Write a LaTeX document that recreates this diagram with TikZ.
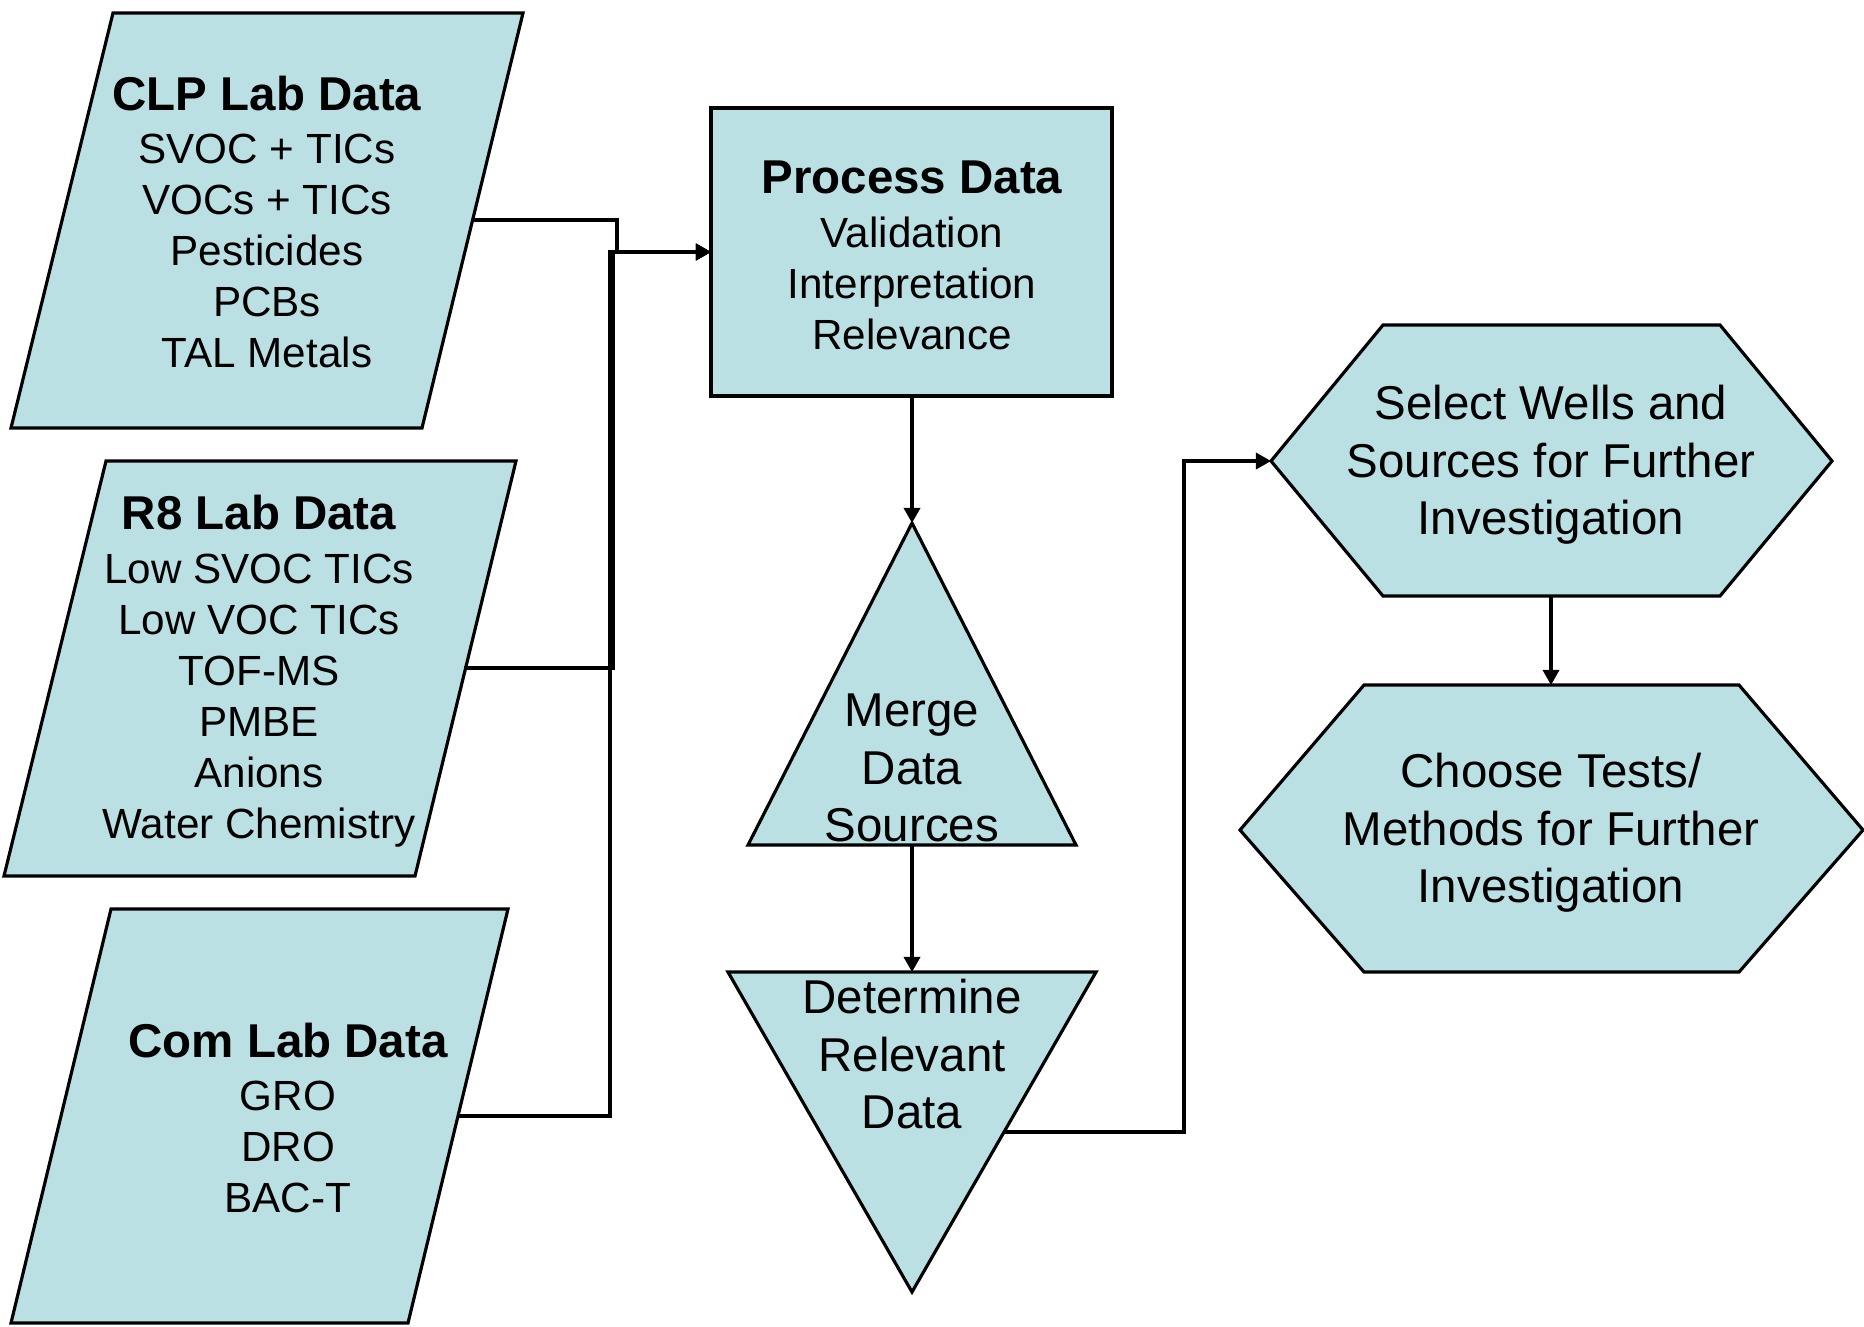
\documentclass[tikz,border=0pt]{standalone}
\usepackage{fontspec}
\setmainfont{Liberation Sans}
\usetikzlibrary{arrows.meta}

\definecolor{boxfill}{RGB}{187,224,227}
\tikzset{
    shapebox/.style={fill=boxfill,draw=black,line width=0.9pt},
    flow/.style={line width=0.9pt,-{Triangle[length=4.3pt,width=4.6pt]}},
    smalltext/.style={align=center,font=\fontsize{12}{14.5}\selectfont},
    bigtext/.style={align=center,font=\fontsize{13.5}{16.3}\selectfont},
}
\newcommand{\heading}[1]{{\bfseries\fontsize{13.5}{14.5}\selectfont #1}}

\begin{document}
\begin{tikzpicture}[x=0.01cm,y=-0.01cm]
    \useasboundingbox (0,0) rectangle (1864,1326);

    % lab data inputs
    \filldraw[shapebox] (113,13) -- (523,13) -- (422,428) -- (11,428) -- cycle;
    \filldraw[shapebox] (106,461) -- (516,461) -- (415,876) -- (4,876) -- cycle;
    \filldraw[shapebox] (111,909) -- (508,909) -- (408,1323) -- (11,1323) -- cycle;

    \node[smalltext] (clp) at (267,222) {\heading{CLP Lab Data}\\[0.8pt]SVOC + TICs\\VOCs + TICs\\Pesticides\\PCBs\\TAL Metals};
    \node[smalltext] (r8) at (259,671) {\heading{R8 Lab Data}\\[0.8pt]Low SVOC TICs\\Low VOC TICs\\TOF-MS\\PMBE\\Anions\\Water Chemistry};
    \node[smalltext] (com) at (288,1118) {\heading{Com Lab Data}\\[0.8pt]GRO\\DRO\\BAC-T};

    % processing steps
    \filldraw[shapebox] (711,108) rectangle (1112,396);
    \node[smalltext] (proc) at (912,255) {\heading{Process Data}\\[0.8pt]Validation\\Interpretation\\Relevance};

    \filldraw[shapebox] (912,523) -- (1076,845) -- (748,845) -- cycle;
    \node[bigtext] (merge) at (912,768) {Merge\\Data\\Sources};

    \filldraw[shapebox] (728,972) -- (1096,972) -- (912,1292) -- cycle;
    \node[bigtext] (determine) at (912,1054) {Determine\\Relevant\\Data};

    \filldraw[shapebox] (1271,461) -- (1383,325) -- (1720,325) -- (1832,461) -- (1720,596) -- (1383,596) -- cycle;
    \node[bigtext] (select) at (1551,465) {Select Wells and\\Sources for Further\\Investigation};

    \filldraw[shapebox] (1240,830) -- (1364,685) -- (1739,685) -- (1863,830) -- (1739,972) -- (1364,972) -- cycle;
    \node[bigtext] (choose) at (1551,833) {Choose Tests/\\Methods for Further\\Investigation};

    % connection points
    \coordinate (clp-out) at (473,220);
    \coordinate (r8-out) at (464,668);
    \coordinate (com-out) at (458,1116);
    \coordinate (proc-in) at (711,252);
    \coordinate (proc-out) at (912,396);
    \coordinate (merge-in) at (912,523);
    \coordinate (merge-out) at (912,845);
    \coordinate (det-in) at (912,972);
    \coordinate (det-out) at (1005,1132);
    \coordinate (sel-in) at (1271,461);
    \coordinate (sel-out) at (1551,596);
    \coordinate (choose-in) at (1551,685);

    \draw[flow] (clp-out) -- (617,220) -- (617,252) -- (proc-in);
    \draw[flow] (r8-out) -- (613,668) -- (613,252) -- (proc-in);
    \draw[flow] (com-out) -- (610,1116) -- (610,252) -- (proc-in);

    \draw[flow] (proc-out) -- (merge-in);
    \draw[flow] (merge-out) -- (det-in);
    \draw[flow] (det-out) -- (1184,1132) -- (1184,461) -- (sel-in);
    \draw[flow] (sel-out) -- (choose-in);
\end{tikzpicture}
\end{document}
